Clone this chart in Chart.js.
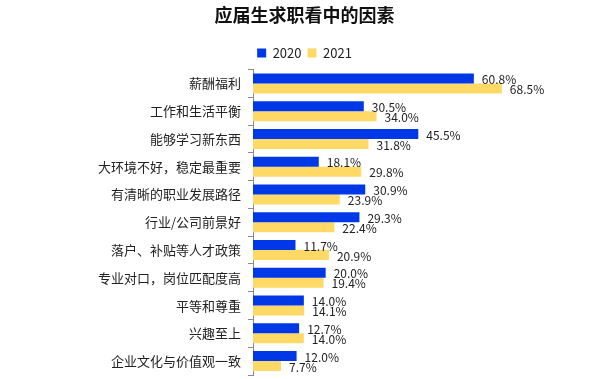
<!DOCTYPE html>
<html><head><meta charset="utf-8">
<script src="https://cdn.jsdelivr.net/npm/chart.js@4/dist/chart.umd.min.js"></script>
<style>html,body{margin:0;padding:0;background:#fff}#wrap{width:609px;height:379px}</style>
</head><body><div id="wrap"><canvas id="c" width="609" height="379"></canvas></div>
<script>
const categories = ["薪酬福利","工作和生活平衡","能够学习新东西","大环境不好，稳定最重要","有清晰的职业发展路径","行业/公司前景好","落户、补贴等人才政策","专业对口，岗位匹配度高","平等和尊重","兴趣至上","企业文化与价值观一致"];
const values2020 = [60.8,30.5,45.5,18.1,30.9,29.3,11.7,20.0,14.0,12.7,12.0];
const values2021 = [68.5,34.0,31.8,29.8,23.9,22.4,20.9,19.4,14.1,14.0,7.7];
const seriesNames = ["2020","2021"];
const FONT = "'Noto Sans CJK SC','Noto Sans',sans-serif";

const labelPlugin = {
  id:'barLabels',
  afterDatasetsDraw(chart){
    const ctx = chart.ctx;
    ctx.save();
    ctx.font = "12px " + FONT;
    ctx.fillStyle = "#222";
    ctx.textAlign = "left";
    ctx.textBaseline = "middle";
    chart.data.datasets.forEach((ds,i)=>{
      const meta = chart.getDatasetMeta(i);
      meta.data.forEach((bar,j)=>{
        ctx.fillText(ds.data[j].toFixed(1)+"%", bar.x + 8, bar.y + 1);
      });
    });
    ctx.restore();
  }
};

new Chart(document.getElementById('c'), {
  type:'bar',
  data:{
    labels:categories,
    datasets:[
      {label:seriesNames[0], data:values2020, backgroundColor:'#0038E8'},
      {label:seriesNames[1], data:values2021, backgroundColor:'#FFD966'}
    ]
  },
  options:{
    indexAxis:'y',
    responsive:false,
    animation:false,
    devicePixelRatio:1,
    layout:{padding:{left:0,right:0,top:0,bottom:4}},
    datasets:{bar:{categoryPercentage:0.72,barPercentage:1.0}},
    scales:{
      x:{display:false,min:0,max:98},
      y:{
        afterFit(s){ s.width = 253; s.paddingTop = 0; s.paddingBottom = 0; },
        border:{display:true,color:'#8a8a8a',width:1},
        grid:{display:true,drawOnChartArea:false,drawTicks:true,tickLength:5,color:'#8a8a8a',offset:true},
        ticks:{font:{size:13,family:FONT},color:'#222',padding:7}
      }
    },
    plugins:{
      title:{display:true,text:'应届生求职看中的因素',font:{size:18,weight:'bold',family:FONT},color:'#111',padding:{top:4,bottom:15}},
      legend:{display:true,position:'top',labels:{boxWidth:9,boxHeight:9,font:{size:13,family:FONT},color:'#222',padding:6}},
      tooltip:{enabled:false}
    }
  },
  plugins:[labelPlugin]
});
</script></body></html>
